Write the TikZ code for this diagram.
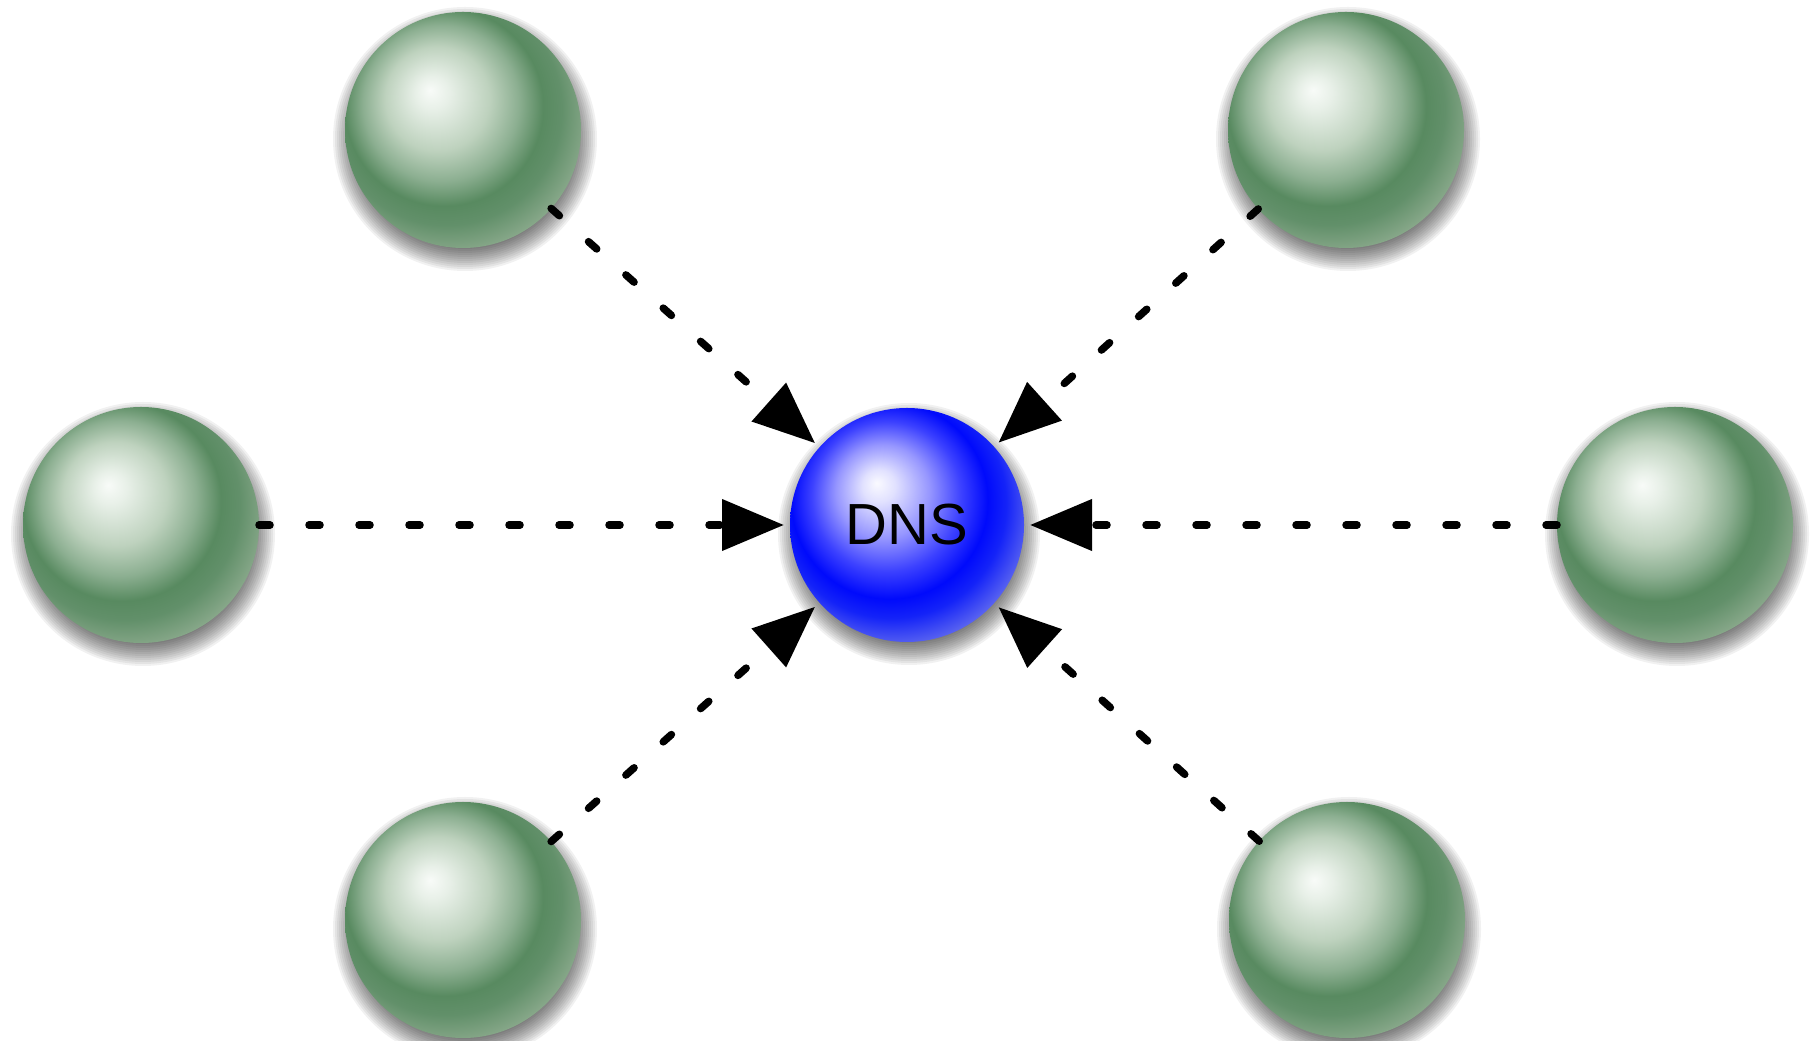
\documentclass[tikz,border=0pt]{standalone}
\usepackage{fontspec}
\setmainfont{Liberation Sans}
\usetikzlibrary{arrows.meta}
\definecolor{gA}{RGB}{248,251,248}
\definecolor{gB}{RGB}{232,240,232}
\definecolor{gC}{RGB}{190,210,190}
\definecolor{gD}{RGB}{140,175,145}
\definecolor{gE}{RGB}{88,138,96}
\definecolor{gF}{RGB}{98,144,106}
\definecolor{gG}{RGB}{136,168,138}
\definecolor{bA}{RGB}{250,250,255}
\definecolor{bB}{RGB}{225,225,255}
\definecolor{bC}{RGB}{150,150,255}
\definecolor{bD}{RGB}{60,65,255}
\definecolor{bE}{RGB}{0,10,252}
\definecolor{bF}{RGB}{20,35,248}
\definecolor{bG}{RGB}{90,100,240}
\pgfdeclareradialshading{greenball}{\pgfpoint{-7bp}{8.5bp}}{%
  color(0bp)=(gA); color(3.5bp)=(gB); color(11bp)=(gC); color(16.5bp)=(gD);
  color(21bp)=(gE); color(24.5bp)=(gF); color(29.5bp)=(gG); color(50bp)=(gG)}
\pgfdeclareradialshading{blueball}{\pgfpoint{-6.5bp}{9bp}}{%
  color(0bp)=(bA); color(3.5bp)=(bB); color(10bp)=(bC); color(16bp)=(bD);
  color(21bp)=(bE); color(24.5bp)=(bF); color(29.5bp)=(bG); color(50bp)=(bG)}
\newcommand{\ballshadow}[3]{%
  \foreach \k in {0,...,13}{\fill[black,opacity=0.055] ({#1+2},{#2-9}) circle ({#3+14-2*\k});}}
\begin{document}
\begin{tikzpicture}[x=1pt,y=1pt,
  gball/.style={circle,inner sep=0pt,outer sep=0pt,minimum size=236pt,shading=greenball},
  dball/.style={circle,inner sep=0pt,outer sep=0pt,minimum size=234pt,shading=blueball,
    font=\fontsize{58}{60}\selectfont,text=black},
  conn/.style={line width=7.5pt,line cap=round,dash pattern=on 11pt off 39pt,
    -{Triangle[length=62pt,width=50pt]},shorten >=6pt}]
\fill[white] (0,0) rectangle (1812,1041);
\useasboundingbox (0,0) rectangle (1812,1041);
\ballshadow{463}{911}{118}
\ballshadow{1346}{911}{118}
\ballshadow{141}{516}{118}
\ballshadow{1675}{516}{118}
\ballshadow{463}{121}{118}
\ballshadow{1347}{121}{118}
\ballshadow{907}{516}{117}
\node[gball] (tl) at (463,911) {};
\node[gball] (tr) at (1346,911) {};
\node[gball] (l) at (141,516) {};
\node[gball] (r) at (1675,516) {};
\node[gball] (bl) at (463,121) {};
\node[gball] (br) at (1347,121) {};
\node[dball] (dns) at (907,516) {DNS};
\draw[conn] (tl) -- (dns);
\draw[conn] (tr) -- (dns);
\draw[conn] (l) -- (dns);
\draw[conn] (r) -- (dns);
\draw[conn] (bl) -- (dns);
\draw[conn] (br) -- (dns);
\end{tikzpicture}
\end{document}
